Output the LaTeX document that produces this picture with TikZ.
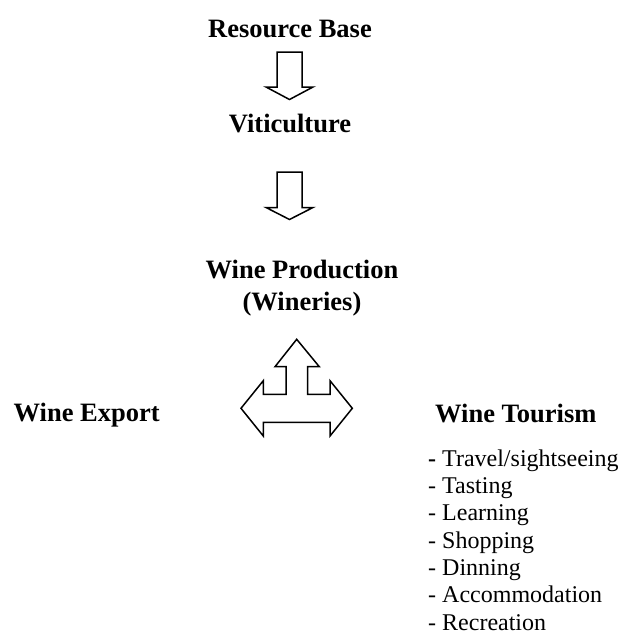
\documentclass[tikz,border=0pt]{standalone}
\usepackage{fontspec}
\setmainfont{Liberation Serif}
\begin{document}
\begin{tikzpicture}[x=1pt,y=-1pt,
  title/.style={font=\fontsize{26.5}{30}\selectfont\bfseries, inner sep=0pt},
  item/.style={font=\fontsize{24}{27.5}\selectfont, inner sep=0pt, anchor=base west},
  blockarrow/.style={draw=black, line width=1.5pt, line join=miter, fill=white}]
\useasboundingbox (0,0) rectangle (623,635);
% titles
\node[title, anchor=base] (rb) at (290,37) {Resource Base};
\node[title, anchor=base] (vit) at (290,132) {Viticulture};
\node[title, anchor=base] (wp) at (302,278) {Wine Production};
\node[title, anchor=base] (wi) at (302,310) {(Wineries)};
\node[title, anchor=base west] (we) at (13.5,421.7) {Wine Export};
\node[title, anchor=base west] (wt) at (435,422.5) {Wine Tourism};
% list
\node[item] (l1) at (428,466.2) {\textbf{-} Travel/sightseeing};
\node[item] (l2) at (428,493.5) {- Tasting};
\node[item] (l3) at (428,520.8) {- Learning};
\node[item] (l4) at (428,548.1) {- Shopping};
\node[item] (l5) at (428,575.4) {- Dinning};
\node[item] (l6) at (428,602.7) {- Accommodation};
\node[item] (l7) at (428,630.0) {- Recreation};
% down arrows
\draw[blockarrow] (277,52) -- (302,52) -- (302,87) -- (313,87) -- (289.5,99.5)
  -- (266,87) -- (277,87) -- cycle;
\draw[blockarrow] (277,172) -- (302,172) -- (302,207.5) -- (313,207.5) -- (289.5,219.5)
  -- (266,207.5) -- (277,207.5) -- cycle;
% three-way arrow
\draw[blockarrow] (296.7,339.3) -- (319.3,366.7) -- (307.7,366.7) -- (307.7,394.3)
  -- (330,394.3) -- (330,380.7) -- (352.3,408.3) -- (330,436) -- (330,422.3)
  -- (263.3,422.3) -- (263.3,436) -- (241,408.3) -- (263.3,380.7) -- (263.3,394.3)
  -- (286,394.3) -- (286,366.7) -- (275,366.7) -- cycle;
\end{tikzpicture}
\end{document}
